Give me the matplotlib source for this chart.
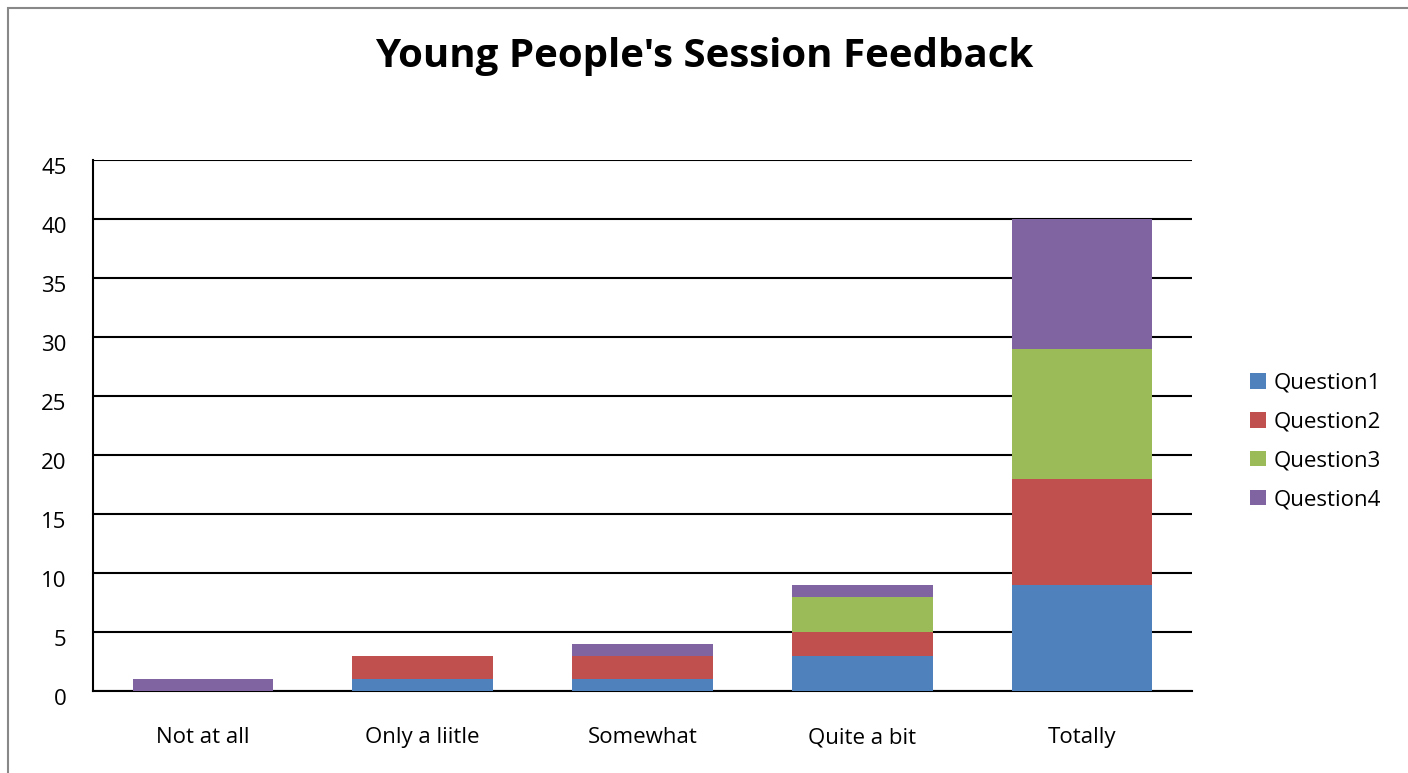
import matplotlib.pyplot as plt
import numpy as np
from matplotlib.patches import Rectangle
from matplotlib.transforms import ScaledTranslation

plt.rcParams['font.family'] = ['Open Sans', 'DejaVu Sans']

categories = ["Not at all", "Only a liitle", "Somewhat", "Quite a bit", "Totally"]
question1 = [0, 1, 1, 3, 9]
question2 = [0, 2, 2, 2, 9]
question3 = [0, 0, 0, 3, 11]
question4 = [1, 0, 1, 1, 11]
series_names = ["Question1", "Question2", "Question3", "Question4"]
colors = ["#4F81BD", "#C0504D", "#9BBB59", "#8064A2"]

fig = plt.figure(figsize=(14.08, 7.73), dpi=100)
# chart frame, open to the right and bottom
fig.patches.append(Rectangle((8 / 1408, -0.1), 1.2, (773 - 8) / 773 + 0.1,
                             transform=fig.transFigure, fill=False,
                             edgecolor="#888888", linewidth=1.5))

ax = fig.add_axes([93 / 1408, 1 - 691 / 773, (1192 - 93) / 1408, (691 - 160) / 773])

x = np.arange(len(categories))
bottom = np.zeros(len(categories))
for name, vals, c in zip(series_names, [question1, question2, question3, question4], colors):
    ax.bar(x, vals, width=0.64, bottom=bottom, color=c, label=name, zorder=3)
    bottom += np.array(vals)

ax.set_xlim(-0.5, len(categories) - 0.5)
ax.set_ylim(0, 45)
ax.set_yticks(range(0, 46, 5))
ax.set_xticks(x)
ax.set_xticklabels(categories)
ax.yaxis.grid(True, color="black", linewidth=1.5, zorder=0)
ax.tick_params(axis="both", length=0, labelsize=16)
ax.tick_params(axis="y", pad=19)
ax.tick_params(axis="x", pad=26)
for side in ["top", "right"]:
    ax.spines[side].set_visible(False)
for side in ["left", "bottom"]:
    ax.spines[side].set_linewidth(1.5)

# value labels sit a little below their gridlines
shift = ScaledTranslation(0, -6 / 100, fig.dpi_scale_trans)
for lab in ax.get_yticklabels():
    lab.set_transform(lab.get_transform() + shift)

fig.text(0.5, 1 - 56 / 773, "Young People's Session Feedback", ha="center", va="center",
         fontsize=29, fontweight="bold")

ax.legend(loc="center left", bbox_to_anchor=(1.035, 0.47), frameon=False, fontsize=16,
          handlelength=0.7, handleheight=0.7, handletextpad=0.35, labelspacing=0.8)

fig.savefig("out.png", dpi=100)
